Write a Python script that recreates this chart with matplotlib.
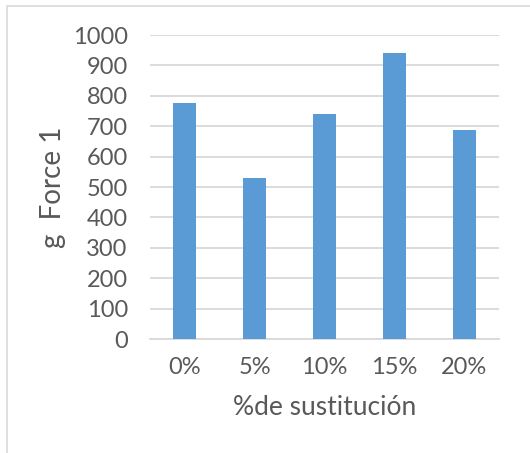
import numpy as np
import matplotlib.pyplot as plt
from matplotlib.patches import Rectangle

plt.rcParams['font.family'] = ['Lato', 'DejaVu Sans']

categories = ['0%', '5%', '10%', '15%', '20%']
force = [777, 529, 739, 940, 687]
yticks = [0, 100, 200, 300, 400, 500, 600, 700, 800, 900, 1000]

W, H = 530, 453
fig = plt.figure(figsize=(W / 100, H / 100), dpi=100)

# light chart-area frame (top and left edges visible)
fig.patches.append(Rectangle((7 / W, -0.1), 1.2, 1 - 6 / H + 0.1, transform=fig.transFigure,
                             fill=False, edgecolor='#d9d9d9', linewidth=1.2))

ax = fig.add_axes([150 / W, 1 - 339 / H, 349 / W, 304 / H])
x = np.arange(len(categories))
ax.bar(x, force, width=0.33, color='#5b9bd5', zorder=3)

ax.set_xlim(-0.5, len(categories) - 0.5)
ax.set_ylim(0, 1000)
ax.set_yticks(yticks)
ax.set_xticks(x)
ax.set_xticklabels(categories)
ax.yaxis.grid(True, color='#d9d9d9', linewidth=1.3, zorder=0)
for s in ['top', 'right', 'left']:
    ax.spines[s].set_visible(False)
ax.spines['bottom'].set_color('#d9d9d9')
ax.spines['bottom'].set_linewidth(1.3)
ax.tick_params(axis='both', length=0, labelsize=17, labelcolor='#595959')
ax.tick_params(axis='y', pad=16)
ax.tick_params(axis='x', pad=13)

ax.set_ylabel('g  Force 1', fontsize=20, color='#595959', labelpad=5)
ax.set_xlabel('%de sustitución', fontsize=19, color='#595959', labelpad=12)

fig.savefig('out.png', dpi=100)
